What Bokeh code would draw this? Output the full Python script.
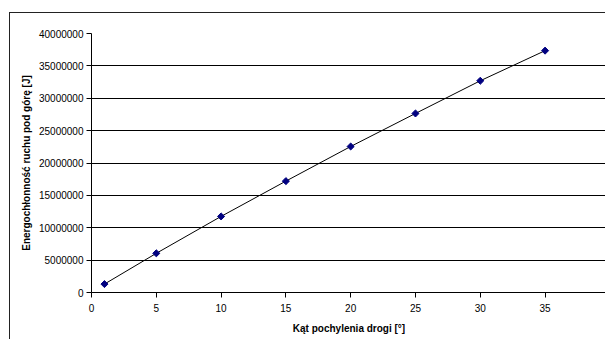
import math
from bokeh.plotting import figure
from bokeh.models import FixedTicker, BasicTickFormatter, Range1d, Label
from bokeh.embed import file_html
from bokeh.resources import INLINE

# data
angle = [1, 5, 10, 15, 20, 25, 30, 35]
energy = [1300000, 6050000, 11750000, 17200000, 22550000, 27650000, 32700000, 37350000]
x_ticks = [0, 5, 10, 15, 20, 25, 30, 35, 40]
y_ticks = [0, 5000000, 10000000, 15000000, 20000000, 25000000, 30000000, 35000000, 40000000]
x_title = "Kąt pochylenia drogi [°]"
y_title = "Energochłonność ruchu pod górę [J]"

FONT = "Liberation Sans"

p = figure(width=596, height=327, output_backend="svg", toolbar_location=None,
           x_range=Range1d(0, 39.74), y_range=Range1d(0, 40000000),
           min_border_left=81, min_border_right=0, min_border_top=20, min_border_bottom=48,
           margin=(12, 0, 0, 9),
           styles={"border-left": "1px solid #222222", "border-top": "1px solid #222222"})
p.outline_line_color = None
p.background_fill_color = "white"
p.border_fill_color = "white"

p.line(angle, energy, line_color="black", line_width=1)
p.scatter(angle, energy, marker="square", size=5, angle=math.pi / 4,
          fill_color="#000080", line_color="#000080")

p.xaxis.ticker = FixedTicker(ticks=x_ticks)
p.yaxis.ticker = FixedTicker(ticks=y_ticks)
p.yaxis.formatter = BasicTickFormatter(use_scientific=False)
for ax in (p.xaxis[0], p.yaxis[0]):
    ax.axis_line_color = "black"
    ax.major_tick_line_color = "black"
    ax.major_tick_in = 0
    ax.major_tick_out = 5
    ax.minor_tick_line_color = None
    ax.major_label_text_font = FONT
    ax.major_label_text_font_size = "10px"
    ax.major_label_text_color = "black"
    ax.axis_label_text_font = FONT
    ax.axis_label_text_font_size = "10px"
    ax.axis_label_text_font_style = "bold"
    ax.axis_label_text_color = "black"
p.xaxis.axis_label = x_title
p.yaxis.axis_label = y_title
p.xaxis.major_label_standoff = 6
p.yaxis.major_label_standoff = 3
p.xaxis.axis_label_standoff = 8
p.yaxis.axis_label_standoff = 4

p.xgrid.grid_line_color = None
p.ygrid.grid_line_color = "black"
p.ygrid.grid_line_width = 1

# partially visible last x tick label (cut by the window edge, as in the reference)
p.add_layout(Label(x=40, y=-1650000, text="40", text_align="center", text_baseline="top",
                   text_font=FONT, text_font_size="10px", text_color="black"))

open("out.html", "w").write(file_html(p, INLINE))
